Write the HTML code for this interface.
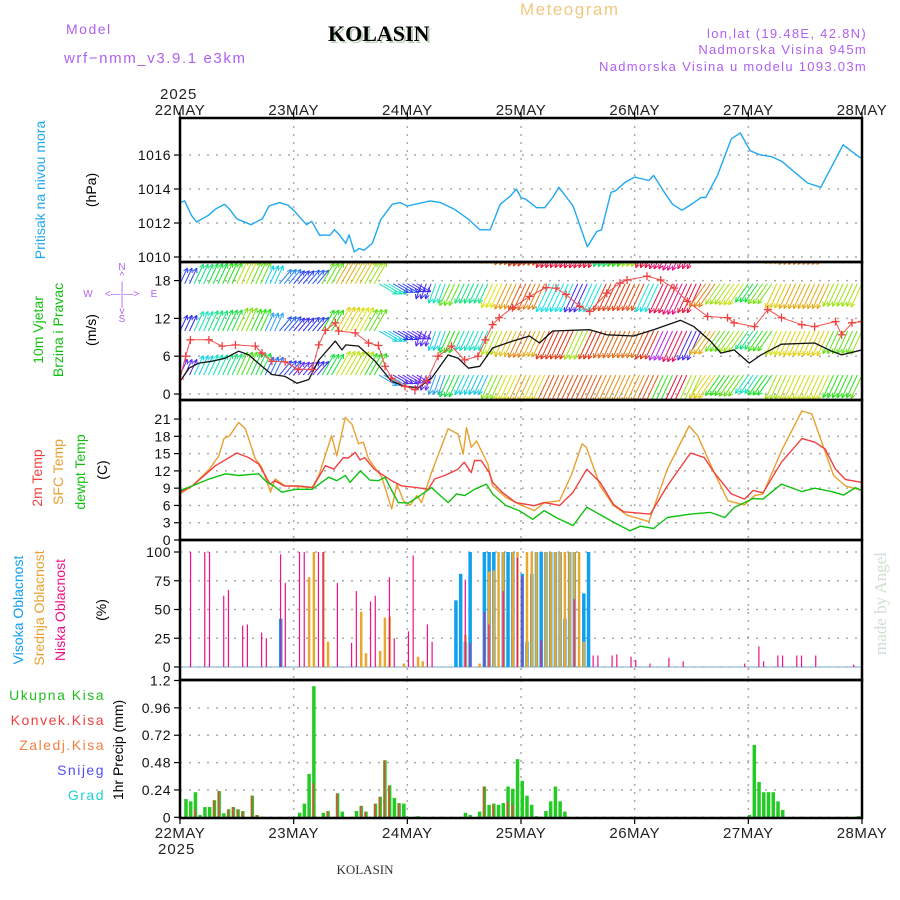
<!DOCTYPE html>
<html><head><meta charset="utf-8"><style>
html,body{margin:0;padding:0;background:#fff;}
svg{display:block;}
text{font-family:"Liberation Sans",sans-serif;}
</style></head><body>
<svg id="chart" width="900" height="900" viewBox="0 0 900 900" xmlns="http://www.w3.org/2000/svg">
<defs>
<clipPath id="cp1"><rect x="180" y="118" width="682" height="144"/></clipPath>
<clipPath id="cp2"><rect x="180" y="262" width="682" height="138"/></clipPath>
<clipPath id="cp3"><rect x="180" y="400" width="682" height="140"/></clipPath>
<clipPath id="cp4"><rect x="180" y="540" width="682" height="140"/></clipPath>
<clipPath id="cp5"><rect x="180" y="680" width="682" height="138"/></clipPath>
</defs>
<g>
<text x="66" y="34" font-size="14" fill="#b060f0" letter-spacing="1.5">Model</text>
<text x="64" y="63" font-size="15" fill="#b060f0" letter-spacing="1.6">wrf−nmm_v3.9.1  e3km</text>
<text x="330" y="43" font-size="22" font-weight="bold" fill="#b8d0b8" style="font-family:'Liberation Serif',serif">KOLASIN</text>
<text x="328" y="41" font-size="22" font-weight="bold" fill="#000" style="font-family:'Liberation Serif',serif">KOLASIN</text>
<text x="520" y="15" font-size="17" fill="#f0c880" letter-spacing="1.5">Meteogram</text>
<text x="867" y="38" font-size="13" fill="#b060f0" text-anchor="end" letter-spacing="1.3">lon,lat (19.48E, 42.8N)</text>
<text x="867" y="54" font-size="13" fill="#b060f0" text-anchor="end" letter-spacing="1.3">Nadmorska Visina 945m</text>
<text x="867" y="71" font-size="13" fill="#b060f0" text-anchor="end" letter-spacing="1.3">Nadmorska Visina u modelu 1093.03m</text>
<text x="160" y="99" font-size="15" fill="#222" letter-spacing="1">2025</text>
<text x="158" y="854" font-size="15" fill="#222" letter-spacing="1">2025</text>
<text x="365" y="874" font-size="13" fill="#333" text-anchor="middle" style="font-family:'Liberation Serif',serif">KOLASIN</text>
<text transform="translate(886,655) rotate(-90)" font-size="17" fill="#d0e0d0" style="font-family:'Liberation Serif',serif">made by Angel</text>
</g>
<g font-size="14">
<text transform="translate(45,190) rotate(-90)" text-anchor="middle" fill="#20a8f0">Pritisak na nivou mora</text>
<text transform="translate(96,190) rotate(-90)" text-anchor="middle" fill="#000">(hPa)</text>
<text transform="translate(43,330) rotate(-90)" text-anchor="middle" fill="#10c010">10m Vjetar</text>
<text transform="translate(63,330) rotate(-90)" text-anchor="middle" fill="#10c010">Brzina i Pravac</text>
<text transform="translate(96,330) rotate(-90)" text-anchor="middle" fill="#000">(m/s)</text>
<g font-size="10" fill="#b060f0">
<text x="122" y="270" text-anchor="middle">N</text><text x="122" y="279" text-anchor="middle">^</text><text x="122" y="289" text-anchor="middle">|</text>
<text x="122" y="297" text-anchor="middle">&lt;—|—&gt;</text><text x="88" y="297" text-anchor="middle">W</text><text x="154" y="297" text-anchor="middle">E</text>
<text x="122" y="306" text-anchor="middle">|</text><text x="122" y="314" text-anchor="middle">v</text><text x="122" y="322" text-anchor="middle">S</text>
</g>
<text transform="translate(42,478) rotate(-90)" text-anchor="middle" fill="#f04040">2m Temp</text>
<text transform="translate(63,472) rotate(-90)" text-anchor="middle" fill="#e8a030">SFC Temp</text>
<text transform="translate(85,472) rotate(-90)" text-anchor="middle" fill="#10c010">dewpt Temp</text>
<text transform="translate(107,470) rotate(-90)" text-anchor="middle" fill="#000">(C)</text>
<text transform="translate(23,610) rotate(-90)" text-anchor="middle" fill="#10a0f0">Visoka Oblacnost</text>
<text transform="translate(44,608) rotate(-90)" text-anchor="middle" fill="#e8a030">Srednja Oblacnost</text>
<text transform="translate(65,610) rotate(-90)" text-anchor="middle" fill="#f0108a">Niska Oblacnost</text>
<text transform="translate(106,610) rotate(-90)" text-anchor="middle" fill="#000">(%)</text>
<g font-size="14" text-anchor="end" letter-spacing="1.5">
<text x="105" y="700" fill="#20c020">Ukupna  Kisa</text>
<text x="105" y="725" fill="#f04040">Konvek.Kisa</text>
<text x="105" y="750" fill="#f08040">Zaledj.Kisa</text>
<text x="105" y="775" fill="#5050f0">Snijeg</text>
<text x="105" y="800" fill="#20d0d0">Grad</text>
</g>
<text transform="translate(123,750) rotate(-90)" text-anchor="middle" fill="#000">1hr Precip (mm)</text>
</g>
<g id="grid"></g>
<g id="marks"></g>
<g id="axes"></g>
</svg>
<script>
// ---------- data ----------
const dayLabels = ["22MAY","23MAY","24MAY","25MAY","26MAY","27MAY","28MAY"];
const pTicks = [1010,1012,1014,1016];
const wTicks = [0,6,12,18];
const tTicks = [0,3,6,9,12,15,18,21];
const cTicks = [0,25,50,75,100];
const rTicks = [0,0.24,0.48,0.72,0.96,1.2];
const rTickLabels = ["0","0.24","0.48","0.72","0.96","1.2"];

const presHours = [0,1,2.4,3.5,6,7.6,9.4,10.5,12,15,17.4,18.8,21,22.8,24,26.7,27.8,29.5,30.5,31.6,32.6,33.7,35,35.7,36.8,37.8,38.9,40.6,42.4,44.8,46.5,48,52.8,55,58,61,63.3,65.5,67.6,69.8,71,72,73,75.3,77,78.7,80,83,86,88,89,91,92,94,96,99,100,102.5,104,106,108.5,110,111,113.5,116.4,118.3,120.4,122.6,125,127.2,129.3,132.5,135.3,140,143.3,144];
const presVals  = [1013.2,1013.3,1012.45,1012.06,1012.45,1012.84,1013.1,1012.8,1012.25,1011.9,1012.25,1013,1013.2,1013.05,1012.75,1011.9,1012.1,1011.27,1011.3,1011.27,1011.6,1011.3,1010.8,1011.3,1010.3,1010.5,1010.4,1010.8,1012.2,1013.1,1013.2,1013,1013.3,1013.2,1012.8,1012.2,1011.6,1011.6,1013.1,1013.6,1014,1013.5,1013.4,1012.9,1012.9,1013.5,1014.1,1013,1010.6,1011.5,1011.6,1013.8,1013.9,1014.4,1014.7,1014.5,1014.8,1013.7,1013.1,1012.75,1013.2,1013.5,1013.5,1014.8,1016.95,1017.3,1016.25,1016,1015.9,1015.6,1015.1,1014.35,1014.1,1016.6,1015.9,1015.8];

const windHours = [0,1.9,4,6.8,9.6,12.4,14.5,17.3,19.4,22.2,24.7,27.2,29.3,32.8,34.2,35,37.7,41.2,42.6,44.7,47.5,50.3,53.1,56.6,58.7,60.9,63.3,66,70.2,73.8,75.9,78.7,86.5,90.1,95.8,100,105.7,108.5,112,114.2,117,120.2,122.7,127,134,137.6,139.7,144];
const windVals  = [2,4.1,4.9,5.2,5.7,6.8,6.2,4.4,3.1,2.8,1.7,2.3,5.4,8.4,7,7.8,7.6,5.2,3.9,2,1.2,1,2.5,6.2,5.7,4.1,4.4,7.3,8.4,9.2,8.1,10,10.2,9.4,9.2,10.2,11.7,10.7,8.4,6.5,7,4.9,6.2,7.9,8.1,6.8,6.2,7];
const gustHours = [0,1.2,2.2,6.1,8.9,11.7,15.9,17.3,19.4,22.2,25,27.9,29.3,30.7,32.8,33.5,37,39.8,41.9,43.3,44.7,47.5,49.6,52.1,54.5,57.3,60.1,62.9,64.5,66,67.4,70.2,73.8,77.3,79.4,81.5,84.4,86.5,90.1,92.9,94.4,98.6,101.5,104.3,107.1,111.4,115.6,117,121.3,124.1,127,131.3,134,138.4,139.7,141.9,144];
const gustVals  = [2.4,6,8.6,8.6,7.6,7.8,7.6,6.5,5.2,5.1,3.9,3.9,7.8,10.1,11.3,10,9.7,8.1,7.7,4.4,2.5,1.2,0.7,2.1,6,7.6,5.4,6,8.6,11,12.1,13.7,15.5,16.9,16.8,15.8,13.9,13.1,16,17.6,18.1,18.7,18.1,16.8,14.7,12.3,12.1,11.3,10.7,13.4,12.1,11,10.7,11.5,9.4,11.3,11.5];
// arrow data every 3 hours (direction wind blows toward, deg; speed m/s)
const arrowDir = [25,25,25,25,25,25,25,40,40,40,30,30,30,30,120,120,120,200,200,205,205,205,205,205,205,205,205,205,205,205,205,205,205,205,205,205,205,215,215,215,215,215,205,205,205,205,205,205,205];
const arrowSpd = [2,4.5,5,5.5,6.8,6,3.5,2.8,1.8,2.3,6,8,7.7,6.5,4,2,1.2,1.3,4,6,4.5,4.4,7.3,8.2,9,8.5,10,10,10.2,10,9.4,9.3,9.2,10,10.8,11.7,10.7,8.5,6.5,7,5,6.2,7.6,8,8,8,6.5,6.5,7];

const t2Hours = [0,2.6,7.5,12,14.5,16.6,18,19,20,22,25,28,30.7,32.5,34.5,35.5,37,38,39,41,42.6,44.7,46.8,50,52.4,53.8,55.9,58.7,60,61.5,62.2,63.6,65.3,66,68,70.9,74.8,76.9,80.2,83,85.9,88.7,91.5,93.7,99.3,102.9,107.8,110.7,112.8,116.4,119.2,121,123.1,127,131.3,134,136.2,138.4,140.5,144];
const t2Vals  = [8.3,9.4,12.9,15.1,14.3,13.2,11.2,9.7,10.3,9.4,9.4,9.1,12.9,12.3,14.3,14.2,15.2,13.9,14.3,12.3,11.4,10.3,9.4,9.1,8.8,10.6,11.2,12.3,13.5,11.7,13.8,13.8,11.7,10,8.3,6.5,5.96,6.5,6,8.3,12.3,10,6.2,4.9,4.5,9.4,15.1,14.3,11.7,8,7.1,8.6,8.2,13.5,17.6,17,15.8,12.3,10.5,10];
const sfcHours = [0,2.6,6.2,8.2,9.3,10.5,12.4,13.8,15.9,17.3,19.1,20.1,22.2,27.9,29.3,32,33.1,34.9,36.3,37.7,38.7,39.8,42.6,44.7,45.8,47.2,48.6,50,51,53.1,56.6,58.7,59.8,60.5,61.5,62.6,65,66,68.8,71.6,74.8,76.9,80.1,82.6,84.9,85.8,88.7,91.5,94.4,99,102.9,107.5,109.3,112.8,115.7,119.2,121.3,123.1,127,131.3,133.4,135.5,138,140.5,144];
const sfcVals  = [8,9.4,12.3,14.6,17.6,18.1,20.4,19.3,14.1,12.6,8.3,10.6,9.4,9.1,11.2,18.1,14.6,21.3,20.1,16.7,17,14.1,10.9,5.4,9.7,6.8,6,7.7,6.5,11.7,19.3,18.4,14.9,19.5,16.1,17.2,13.2,9.4,7.4,6.2,5.1,6.5,6.8,11.2,16.7,16.1,9.4,6,4.3,3.2,12.3,19.8,18.1,11.7,6.8,6.1,7.7,8,15.5,22.4,21.9,17,11.2,9.4,8.6];
const dewHours = [0,2.6,6.2,9.6,12.4,16.6,18.4,19.8,21.5,24.4,27.9,31.4,33.1,34.9,35.9,38.1,40.1,41.9,43.3,44.7,46.1,48.2,50.7,53.1,56.6,58.4,60.1,62.2,64.7,66,68.8,71.6,74.5,76.9,79.4,83,85.9,91.5,95,97.2,100,102.9,107.8,112,115,117.1,121,123.1,127,131.3,134,137.6,140.1,142.6,144];
const dewVals  = [8.6,9.4,10.6,11.5,11.2,11.5,10,9.4,8.3,8.8,8.8,10.9,10.3,11.2,10,12,10.4,10.3,10.9,8.6,6.5,6.4,7.7,9.1,6.5,8,7.7,8.8,9.7,8,6,5.1,3.6,5.1,3.9,2.5,5.7,3.1,1.6,2.4,2,3.9,4.5,4.8,3.9,5.7,7.2,7.1,9.7,8.4,9,8.4,7.8,9.1,8.6];

const cloudLowHours = [2,5,6,9,10,13,14,17,18,21,22,25,26,29,30,33,36,37,40,41,44,45,48,49,52,53,60,61,64,65,68,71,72,76,83,87,88,91,92,95,96,99,103,106,119,122,123,126,127,130,131,134,142];
const cloudLowVals  = [100,100,100,62,67,36,37,30,25,98,73,100,100,100,100,73,21,66,57,62,78,25,31,97,37,22,76,21,48,37,66,95,79,23,59,10,10,10,11,9,6,3,8,5,3,18,5,10,10,10,10,10,2];
const cloudMidHours = [27,28,30,31,38,39,42,43,44,47,50,51,60,63,65,66,67,68,70,71,73,74,75,77,78,79,80,81,82,83,84,85];
const cloudMidVals  = [78,100,100,22,48,12,14,43,44,3,9,5,28,3,83,84,100,100,100,100,100,100,100,100,100,100,100,100,100,100,100,22];
const cloudHighHours = [21,58,59,60,61,64,65,66,68,69,70,72,73,74,75,76,77,78,79,80,81,82,83,85,86];
const cloudHighVals  = [42,58,81,22,100,100,100,100,100,100,100,81,22,81,100,100,100,100,100,100,42,100,100,64,100];

const rainHours = [1,2,3,4,5,6,7,8,9,10,11,12,13,15,16,25,26,27,28,30,31,33,34,37,38,39,41,42,43,44,45,46,47,50,60,61,63,64,65,66,67,68,69,70,71,72,73,74,75,77,78,79,80,81,120,121,122,123,124,125,126,127,143,144];
const rainVals  = [0.16,0.14,0.22,0.02,0.09,0.09,0.15,0.23,0.035,0.07,0.09,0.07,0.055,0.19,0.02,0.04,0.12,0.38,1.15,0.04,0.055,0.21,0.05,0.055,0.1,0.05,0.12,0.18,0.5,0.28,0.17,0.125,0.12,0.01,0.04,0.02,0.05,0.27,0.11,0.12,0.11,0.125,0.27,0.25,0.51,0.32,0.19,0.11,0.01,0.055,0.14,0.27,0.14,0.05,0.02,0.635,0.31,0.22,0.22,0.22,0.14,0.065,0.01,0.05];
const convHours = [3,7,8,10,11,12,13,15,16,28,31,33,38,39,41,42,43,44,46,64,66,69,70];
const convVals  = [0.07,0.15,0.23,0.07,0.09,0.07,0.05,0.19,0.02,0.3,0.055,0.21,0.1,0.05,0.12,0.18,0.5,0.28,0.12,0.27,0.11,0.14,0.11];

// ---------- scales ----------
const X0 = 180, X1 = 862, HOURS = 144;
function xS(h){ return X0 + h*(X1-X0)/HOURS; }
function yP(v){ return 257 - (v-1010)*17; }
function yW(v){ return 394 - v*6.3; }
function yT(v){ return 540 - v*5.76; }
function yC(v){ return 667 - v*1.15; }
function yR(v){ return 817.3 - v*114; }

const NS = "http://www.w3.org/2000/svg";
function mk(tag, attrs, parent){
  const e = document.createElementNS(NS, tag);
  for (const k in attrs) e.setAttribute(k, attrs[k]);
  parent.appendChild(e);
  return e;
}
const grid = document.getElementById('grid');
const marks = document.getElementById('marks');
const axes = document.getElementById('axes');

const panels = [
  {top:118, bot:262, ticks:pTicks, labels:pTicks.map(String), y:yP, name:'pressure'},
  {top:262, bot:400, ticks:wTicks, labels:wTicks.map(String), y:yW, name:'wind'},
  {top:400, bot:540, ticks:tTicks, labels:tTicks.map(String), y:yT, name:'temperature'},
  {top:540, bot:680, ticks:cTicks, labels:cTicks.map(String), y:yC, name:'cloud'},
  {top:680, bot:818, ticks:rTicks, labels:rTickLabels, y:yR, name:'precip'}
];

panels.forEach(p => {
  p.ticks.forEach((t,i) => {
    const y = p.y(t);
    const gl = mk('line', {x1:X0, x2:X1, y1:y, y2:y, stroke:'#aaa', 'stroke-width':1.5, 'stroke-dasharray':'2,7'}, grid);
    
    
    const tk = mk('line', {x1:X0-6, x2:X0, y1:y, y2:y, stroke:'#000', 'stroke-width':1.2}, axes);
    
    
    const tl = mk('text', {x:X0-9, y:y+5, 'font-size':14, 'text-anchor':'end', fill:'#111', 'letter-spacing':'0.5'}, axes);
    tl.textContent = p.labels[i];
    
    
  });
  for (let d=1; d<6; d++){
    const x = xS(d*24);
    const vl = mk('line', {x1:x, x2:x, y1:p.top, y2:p.bot, stroke:'#aaa', 'stroke-width':1.5, 'stroke-dasharray':'2,6'}, grid);
    
    
  }
});

dayLabels.forEach((lab, d) => {
  const x = xS(d*24);
  const t1 = mk('text', {x:x, y:115, 'font-size':15, 'text-anchor':'middle', fill:'#222', 'letter-spacing':'0.5'}, axes);
  t1.textContent = lab;
  
  
  const t2 = mk('text', {x:x, y:838, 'font-size':15, 'text-anchor':'middle', fill:'#222', 'letter-spacing':'0.5'}, axes);
  t2.textContent = lab;
  
  
  [[118,112],[818,824]].forEach(([a,b]) => {
    const tk = mk('line', {x1:x, x2:x, y1:a, y2:b, stroke:'#000', 'stroke-width':1.2}, axes);
    
    
  });
});

function poly(hours, vals, yf, color, width, clip, name){
  const pts = hours.map((h,i) => xS(h).toFixed(1) + ',' + yf(vals[i]).toFixed(1)).join(' ');
  const pl = mk('polyline', {points:pts, fill:'none', stroke:color, 'stroke-width':width, 'stroke-linejoin':'round', 'clip-path':'url(#'+clip+')'}, marks);
  
  
  return pl;
}

poly(presHours, presVals, yP, '#20a8f0', 1.4, 'cp1', 'pressure-line');

function speedColor(s){
  const stops = [[0,275],[2,250],[3.5,220],[4.5,185],[5.5,150],[6.5,115],[7.5,80],[8.5,55],[9.5,32],[10.5,10],[11.5,350],[13,325]];
  let hue = stops[stops.length-1][1];
  for (let i=0;i<stops.length-1;i++){
    if (s <= stops[i+1][0]) { const f=(s-stops[i][0])/(stops[i+1][0]-stops[i][0]); hue = stops[i][1] + f*(stops[i+1][1]-stops[i][1]); break; }
  }
  if (s < 0) hue = stops[0][1];
  return 'hsl(' + ((hue+360)%360).toFixed(0) + ',85%,' + (hue>200&&hue<300?55:48) + '%)';
}
const arrowG = mk('g', {'clip-path':'url(#cp2)'}, marks);


const rowTails = [24.5, 17.5, 10, 3];
const rowBonus = [1.5, 1.0, 0.5, 0];
for (let h=0; h<=HOURS; h++){
  const i = Math.min(arrowDir.length-1, Math.floor(h/3));
  const dir = arrowDir[i]*Math.PI/180, spd = arrowSpd[i];
  rowTails.forEach((r, ri) => {
    const x0 = xS(h), y0 = yW(r);
    const L = 14 + 1.7*spd;
    const x1 = x0 + Math.sin(dir)*L, y1 = y0 - Math.cos(dir)*L;
    const col = speedColor(spd + rowBonus[ri]);
    const a = mk('line', {x1:x0, y1:y0, x2:x1, y2:y1, stroke:col, 'stroke-width':1}, arrowG);
    
    
    const back = dir + Math.PI;
    [0.45,-0.45].forEach(o => {
      const hx = x1 + Math.sin(back+o)*5, hy = y1 - Math.cos(back+o)*5;
      const hd = mk('line', {x1:x1, y1:y1, x2:hx, y2:hy, stroke:col, 'stroke-width':1}, arrowG);
      
      
    });
  });
}
poly(windHours, windVals, yW, '#111', 1.3, 'cp2', 'wind-speed-line');
poly(gustHours, gustVals, yW, '#f05050', 1, 'cp2', 'wind-gust-line');
gustHours.forEach((h,i) => {
  const x = xS(h), y = yW(gustVals[i]);
  const g = mk('path', {d:'M'+(x-4)+','+y+'H'+(x+4)+'M'+x+','+(y-4)+'V'+(y+4), stroke:'#f04040', 'stroke-width':1.3, 'clip-path':'url(#cp2)'}, marks);
  
  
});

poly(sfcHours, sfcVals, yT, '#e8a030', 1.4, 'cp3', 'sfc-temp-line');
poly(t2Hours, t2Vals, yT, '#f04040', 1.4, 'cp3', 'temp-2m-line');
poly(dewHours, dewVals, yT, '#10c010', 1.4, 'cp3', 'dewpoint-line');

const cBase = mk('line', {x1:X0, x2:X1, y1:yC(0), y2:yC(0), stroke:'#a8c8d8', 'stroke-width':1.5}, marks);


function bars(hours, vals, yf, color, w, off, clip, name){
  hours.forEach((h,i) => {
    const y = yf(vals[i]), y0 = yf(0);
    const b = mk('rect', {x:xS(h)+off, y:y, width:w, height:Math.max(0.5, y0-y), fill:color, 'clip-path':'url(#'+clip+')'}, marks);
    
    
  });
}
bars(cloudHighHours, cloudHighVals, yC, '#10a0f0', 3.5, -0.5, 'cp4', 'cloud-high-bar');
bars(cloudMidHours, cloudMidVals, yC, '#e8a830', 2.5, 0, 'cp4', 'cloud-mid-bar');
bars(cloudLowHours, cloudLowVals, yC, '#f0108a', 1.2, 0.5, 'cp4', 'cloud-low-bar');

bars(rainHours, rainVals, yR, '#22cc22', 3.5, -0.5, 'cp5', 'total-rain-bar');
bars(convHours, convVals, yR, '#f04040', 1.5, 0, 'cp5', 'convective-rain-bar');

panels.forEach(p => {
  const r = mk('rect', {x:X0, y:p.top, width:X1-X0, height:p.bot-p.top, fill:'none', stroke:'#000', 'stroke-width':2.5}, axes);
  
  
});
</script>
</body></html>
